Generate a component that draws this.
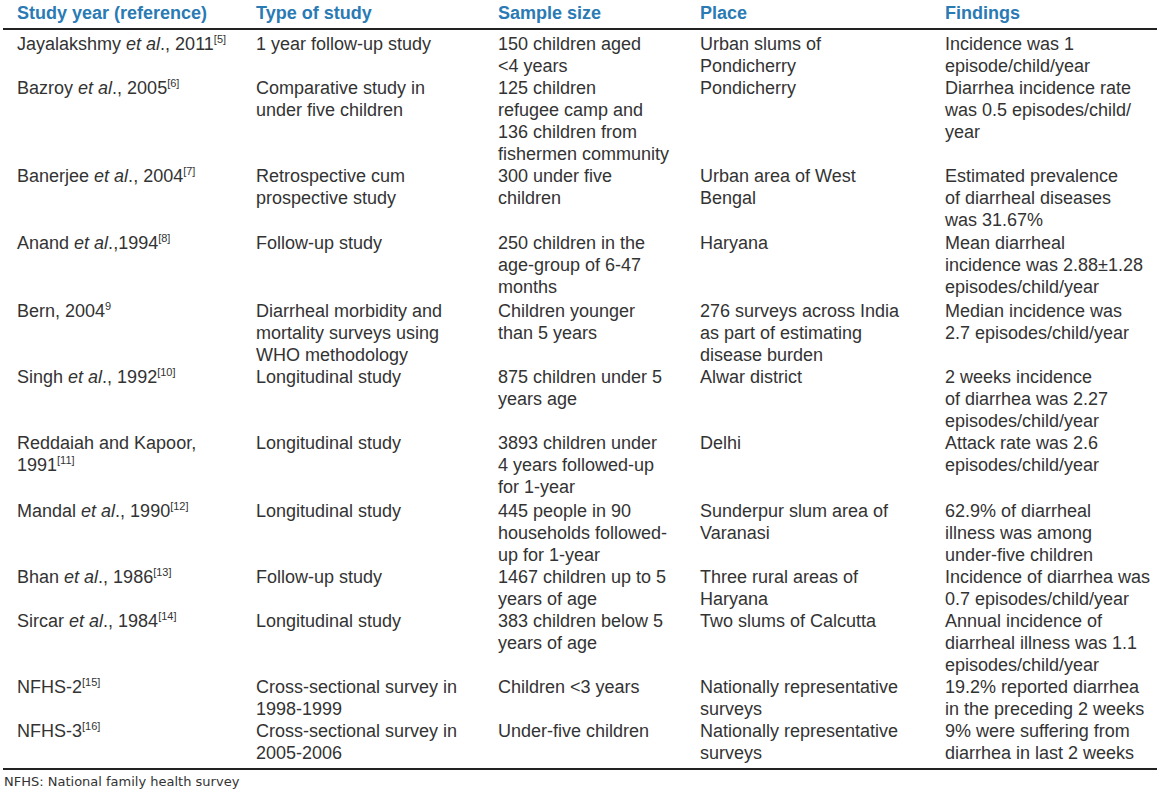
import React from "react"

// one entry per study row
const authors = [
  "Jayalakshmy", "Bazroy", "Banerjee", "Anand", "Bern", "Singh",
  "Reddaiah and Kapoor,", "Mandal", "Bhan", "Sircar", "NFHS-2", "NFHS-3",
]
const etAl = [true, true, true, true, false, true, false, true, true, true, false, false]
const years = [
  ", 2011", ", 2005", ", 2004", ",1994", ", 2004", ", 1992",
  "\n1991", ", 1990", ", 1986", ", 1984", "", "",
]
const refs = ["[5]", "[6]", "[7]", "[8]", "9", "[10]", "[11]", "[12]", "[13]", "[14]", "[15]", "[16]"]

const studyTypes = [
  "1 year follow-up study",
  "Comparative study in\nunder five children",
  "Retrospective cum\nprospective study",
  "Follow-up study",
  "Diarrheal morbidity and\nmortality surveys using\nWHO methodology",
  "Longitudinal study",
  "Longitudinal study",
  "Longitudinal study",
  "Follow-up study",
  "Longitudinal study",
  "Cross-sectional survey in\n1998-1999",
  "Cross-sectional survey in\n2005-2006",
]

const sampleSizes = [
  "150 children aged\n<4 years",
  "125 children\nrefugee camp and\n136 children from\nfishermen community",
  "300 under five\nchildren",
  "250 children in the\nage-group of 6-47\nmonths",
  "Children younger\nthan 5 years",
  "875 children under 5\nyears age",
  "3893 children under\n4 years followed-up\nfor 1-year",
  "445 people in 90\nhouseholds followed-\nup for 1-year",
  "1467 children up to 5\nyears of age",
  "383 children below 5\nyears of age",
  "Children <3 years",
  "Under-five children",
]

const places = [
  "Urban slums of\nPondicherry",
  "Pondicherry",
  "Urban area of West\nBengal",
  "Haryana",
  "276 surveys across India\nas part of estimating\ndisease burden",
  "Alwar district",
  "Delhi",
  "Sunderpur slum area of\nVaranasi",
  "Three rural areas of\nHaryana",
  "Two slums of Calcutta",
  "Nationally representative\nsurveys",
  "Nationally representative\nsurveys",
]

const findings = [
  "Incidence was 1\nepisode/child/year",
  "Diarrhea incidence rate\nwas 0.5 episodes/child/\nyear",
  "Estimated prevalence\nof diarrheal diseases\nwas 31.67%",
  "Mean diarrheal\nincidence was 2.88±1.28\nepisodes/child/year",
  "Median incidence was\n2.7 episodes/child/year",
  "2 weeks incidence\nof diarrhea was 2.27\nepisodes/child/year",
  "Attack rate was 2.6\nepisodes/child/year",
  "62.9% of diarrheal\nillness was among\nunder-five children",
  "Incidence of diarrhea was\n0.7 episodes/child/year",
  "Annual incidence of\ndiarrheal illness was 1.1\nepisodes/child/year",
  "19.2% reported diarrhea\nin the preceding 2 weeks",
  "9% were suffering from\ndiarrhea in last 2 weeks",
]

const headers = ["Study year (reference)", "Type of study", "Sample size", "Place", "Findings"]

// layout (not data)
const colWidths = [253, 242, 202, 245, 212]
const rowExtra = [0, 0, 0, 1, 2, 0, 0, 2, 0, 0, 0, 0]

const textColor = "#333"
const headColor = "#2a7ab4"

const cellStyle: React.CSSProperties = {
  padding: 0,
  verticalAlign: "top",
  whiteSpace: "pre",
}

export default function App() {
  const last = authors.length - 1
  return (
    <div
      style={{
        position: "absolute",
        left: 0,
        top: 0,
        width: 1157,
        height: 791,
        background: "#fff",
        overflow: "hidden",
        fontFamily: "'Liberation Sans', Arial, sans-serif",
        fontSize: 18,
        lineHeight: "22px",
        color: textColor,
      }}
    >
      <table
        style={{
          position: "absolute",
          left: 3,
          top: 2,
          width: 1154,
          borderCollapse: "collapse",
          tableLayout: "fixed",
        }}
      >
        <colgroup>
          {colWidths.map((w, i) => (
            <col key={i} style={{ width: w }} />
          ))}
        </colgroup>
        <thead>
          <tr style={{ borderBottom: "2px solid #222" }}>
            {headers.map((h, i) => (
              <th
                key={h}
                style={{
                  ...cellStyle,
                  textAlign: "left",
                  color: headColor,
                  fontWeight: "bold",
                  paddingLeft: i === 0 ? 14 : 0,
                  paddingBottom: 4,
                }}
              >
                {h}
              </th>
            ))}
          </tr>
        </thead>
        <tbody>
          {authors.map((a, i) => {
            const pad: React.CSSProperties = {
              paddingTop: (i === 0 ? 3 : 0) + rowExtra[i],
              paddingBottom: i === last ? 4 : 0,
            }
            return (
              <tr key={i} style={i === last ? { borderBottom: "2px solid #222" } : undefined}>
                <td style={{ ...cellStyle, ...pad, paddingLeft: 14 }}>
                  {a}
                  {etAl[i] && (
                    <>
                      {" "}
                      <i>et al</i>.
                    </>
                  )}
                  {years[i]}
                  <sup style={{ fontSize: 11, lineHeight: 0, verticalAlign: 7 }}>{refs[i]}</sup>
                </td>
                <td style={{ ...cellStyle, ...pad }}>{studyTypes[i]}</td>
                <td style={{ ...cellStyle, ...pad }}>{sampleSizes[i]}</td>
                <td style={{ ...cellStyle, ...pad }}>{places[i]}</td>
                <td style={{ ...cellStyle, ...pad }}>{findings[i]}</td>
              </tr>
            )
          })}
        </tbody>
      </table>
      <div
        style={{
          position: "absolute",
          left: 4,
          top: 774,
          fontFamily: "'DejaVu Sans', Verdana, sans-serif",
          fontSize: 13,
          lineHeight: "16px",
          color: textColor,
        }}
      >
        NFHS: National family health survey
      </div>
    </div>
  )
}
